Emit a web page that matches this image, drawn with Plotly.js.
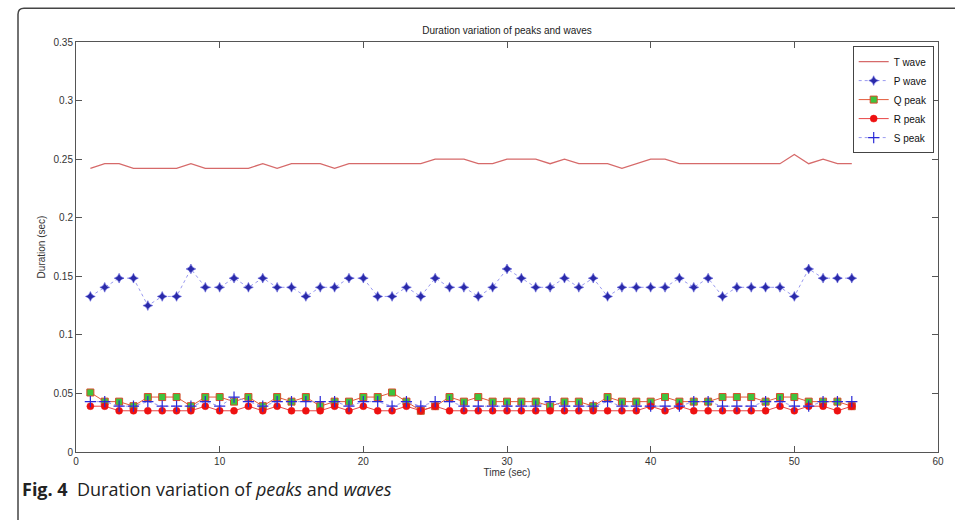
<!DOCTYPE html>
<html>
<head>
<meta charset="utf-8">
<script src="https://cdn.plot.ly/plotly-3.0.1.min.js"></script>
<style>html,body{margin:0;padding:0;background:#fff;}#chart{width:955px;height:520px;}</style>
</head>
<body>
<div id="chart"></div>
<script>
const time = Array.from({length: 54}, (_, i) => i + 1);
const tWave = [0.2422,0.2461,0.2461,0.2422,0.2422,0.2422,0.2422,0.2461,0.2422,0.2422,
  0.2422,0.2422,0.2461,0.2422,0.2461,0.2461,0.2461,0.2422,0.2461,0.2461,
  0.2461,0.2461,0.2461,0.2461,0.25,0.25,0.25,0.2461,0.2461,0.25,
  0.25,0.25,0.2461,0.25,0.2461,0.2461,0.2461,0.2422,0.2461,0.25,
  0.25,0.2461,0.2461,0.2461,0.2461,0.2461,0.2461,0.2461,0.2461,0.2539,
  0.2461,0.25,0.2461,0.2461];
const pWave = [0.1328,0.1406,0.1484,0.1484,0.125,0.1328,0.1328,0.1563,0.1406,0.1406,
  0.1484,0.1406,0.1484,0.1406,0.1406,0.1328,0.1406,0.1406,0.1484,0.1484,
  0.1328,0.1328,0.1406,0.1328,0.1484,0.1406,0.1406,0.1328,0.1406,0.1563,
  0.1484,0.1406,0.1406,0.1484,0.1406,0.1484,0.1328,0.1406,0.1406,0.1406,
  0.1406,0.1484,0.1406,0.1484,0.1328,0.1406,0.1406,0.1406,0.1406,0.1328,
  0.1563,0.1484,0.1484,0.1484];
const qPeak = [0.0508,0.043,0.043,0.0391,0.0469,0.0469,0.0469,0.0391,0.0469,0.0469,
  0.043,0.0469,0.0391,0.0469,0.043,0.0469,0.0391,0.043,0.043,0.0469,
  0.0469,0.0508,0.043,0.0352,0.0391,0.0469,0.043,0.0469,0.043,0.043,
  0.043,0.043,0.0391,0.043,0.043,0.0391,0.0469,0.043,0.043,0.043,
  0.0469,0.043,0.043,0.043,0.0469,0.0469,0.0469,0.043,0.0469,0.0469,
  0.043,0.043,0.043,0.0391];
const rPeak = [0.0391,0.0391,0.0352,0.0352,0.0352,0.0352,0.0352,0.0352,0.0391,0.0352,
  0.0352,0.0391,0.0352,0.0391,0.0352,0.0352,0.0352,0.0391,0.0352,0.0391,
  0.0352,0.0352,0.0391,0.0352,0.0391,0.0352,0.0352,0.0352,0.0352,0.0352,
  0.0352,0.0352,0.0352,0.0352,0.0352,0.0352,0.0352,0.0352,0.0352,0.0391,
  0.0352,0.0391,0.0352,0.0352,0.0352,0.0352,0.0352,0.0352,0.0391,0.0352,
  0.0391,0.0391,0.0352,0.0391];
const sPeak = [0.043,0.043,0.0391,0.0391,0.043,0.0391,0.0391,0.0391,0.043,0.0391,
  0.0469,0.043,0.0391,0.043,0.043,0.043,0.043,0.043,0.0391,0.043,
  0.043,0.0391,0.043,0.0391,0.043,0.043,0.0391,0.0391,0.0391,0.0391,
  0.0391,0.0391,0.043,0.0391,0.0391,0.0391,0.043,0.0391,0.0391,0.0391,
  0.0391,0.0391,0.043,0.043,0.0391,0.0391,0.0391,0.043,0.043,0.0391,
  0.0391,0.043,0.043,0.043];
const seriesNames = ['T wave','P wave','Q peak','R peak','S peak'];
const xTicks = [0,10,20,30,40,50,60];
const yTicks = [0,0.05,0.1,0.15,0.2,0.25,0.3,0.35];
const yTickLabels = ['0','0.05','0.1','0.15','0.2','0.25','0.3','0.35'];

const traces = [
  {x: time, y: tWave, name: seriesNames[0], mode: 'lines', line: {color: '#d66a6a', width: 1.3}},
  {x: time, y: pWave, name: seriesNames[1], mode: 'lines+markers', line: {color: '#9a9af0', width: 1, dash: 'dot'},
   marker: {symbol: 'star-diamond', size: 7, color: '#2a2aa8', line: {color: '#4a4ad8', width: 0.5}}},
  {x: time, y: qPeak, name: seriesNames[2], mode: 'lines+markers', line: {color: '#e35a3a', width: 1},
   marker: {symbol: 'square', size: 7, color: '#3ec43e', line: {color: '#d84a2a', width: 1}}},
  {x: time, y: rPeak, name: seriesNames[3], mode: 'lines+markers', line: {color: '#e84545', width: 1},
   marker: {symbol: 'circle', size: 7, color: '#ee1111', line: {color: '#ee1111', width: 0.5}}},
  {x: time, y: sPeak, name: seriesNames[4], mode: 'lines+markers', line: {color: '#9a9af0', width: 1, dash: 'dot'},
   marker: {symbol: 'cross-thin-open', size: 8, color: '#2a2ad8', line: {color: '#2a2ad8', width: 1.2}}}
];

const tickFont = {family: 'Liberation Sans Narrow, Liberation Sans, Arial', size: 10, color: '#333'};
const pxX = px => (px - 76) / 862;
const pxY = py => (451.7 - py) / 410;

const layout = {
  width: 955, height: 520,
  margin: {l: 76, r: 17, t: 42, b: 68},
  paper_bgcolor: '#fff', plot_bgcolor: '#fff',
  showlegend: true,
  title: {text: 'Duration variation of peaks and waves', font: {family: 'Liberation Sans Narrow, Liberation Sans, Arial', size: 10, color: '#222'},
    x: 0.5, xref: 'paper', y: 1 - 30/520, yanchor: 'middle'},
  xaxis: {range: [0, 60], tickvals: xTicks, ticktext: xTicks.map(String), ticks: 'inside', ticklen: 6, tickcolor: '#555',
    showgrid: false, zeroline: false, showline: true, linecolor: '#555', linewidth: 1, mirror: 'ticks',
    tickfont: tickFont, title: {text: 'Time (sec)', font: tickFont, standoff: 2}},
  yaxis: {range: [0, 0.35], tickvals: yTicks, ticktext: yTickLabels, ticks: 'inside', ticklen: 6, tickcolor: '#555',
    showgrid: false, zeroline: false, showline: true, linecolor: '#555', linewidth: 1, mirror: 'ticks',
    tickfont: tickFont, title: {text: 'Duration (sec)', font: tickFont, standoff: 6}},
  legend: {x: 0.995, y: 0.99, xanchor: 'right', yanchor: 'top', bgcolor: '#fff', bordercolor: '#444', borderwidth: 1,
    font: {family: 'Liberation Sans, Arial', size: 10, color: '#111'}, tracegroupgap: 0, itemwidth: 30},
  shapes: [
    {type: 'path', xref: 'paper', yref: 'paper', layer: 'above',
     path: `M ${pxX(18)} ${pxY(520)} L ${pxX(18)} ${pxY(14)} Q ${pxX(18)} ${pxY(8)} ${pxX(24)} ${pxY(8)} L ${pxX(955)} ${pxY(8)}`,
     line: {color: '#444', width: 1.5}}
  ],
  annotations: [
    {xref: 'paper', yref: 'paper', x: pxX(20), y: pxY(489), xanchor: 'left', yanchor: 'middle', showarrow: false,
     text: '<b>Fig. 4</b>  Duration variation of <i>peaks</i> and <i>waves</i>',
     font: {family: 'Open Sans, Noto Sans, Arial', size: 18, color: '#222'}}
  ]
};

Plotly.newPlot('chart', traces, layout, {displayModeBar: false, staticPlot: true});
</script>
</body>
</html>
